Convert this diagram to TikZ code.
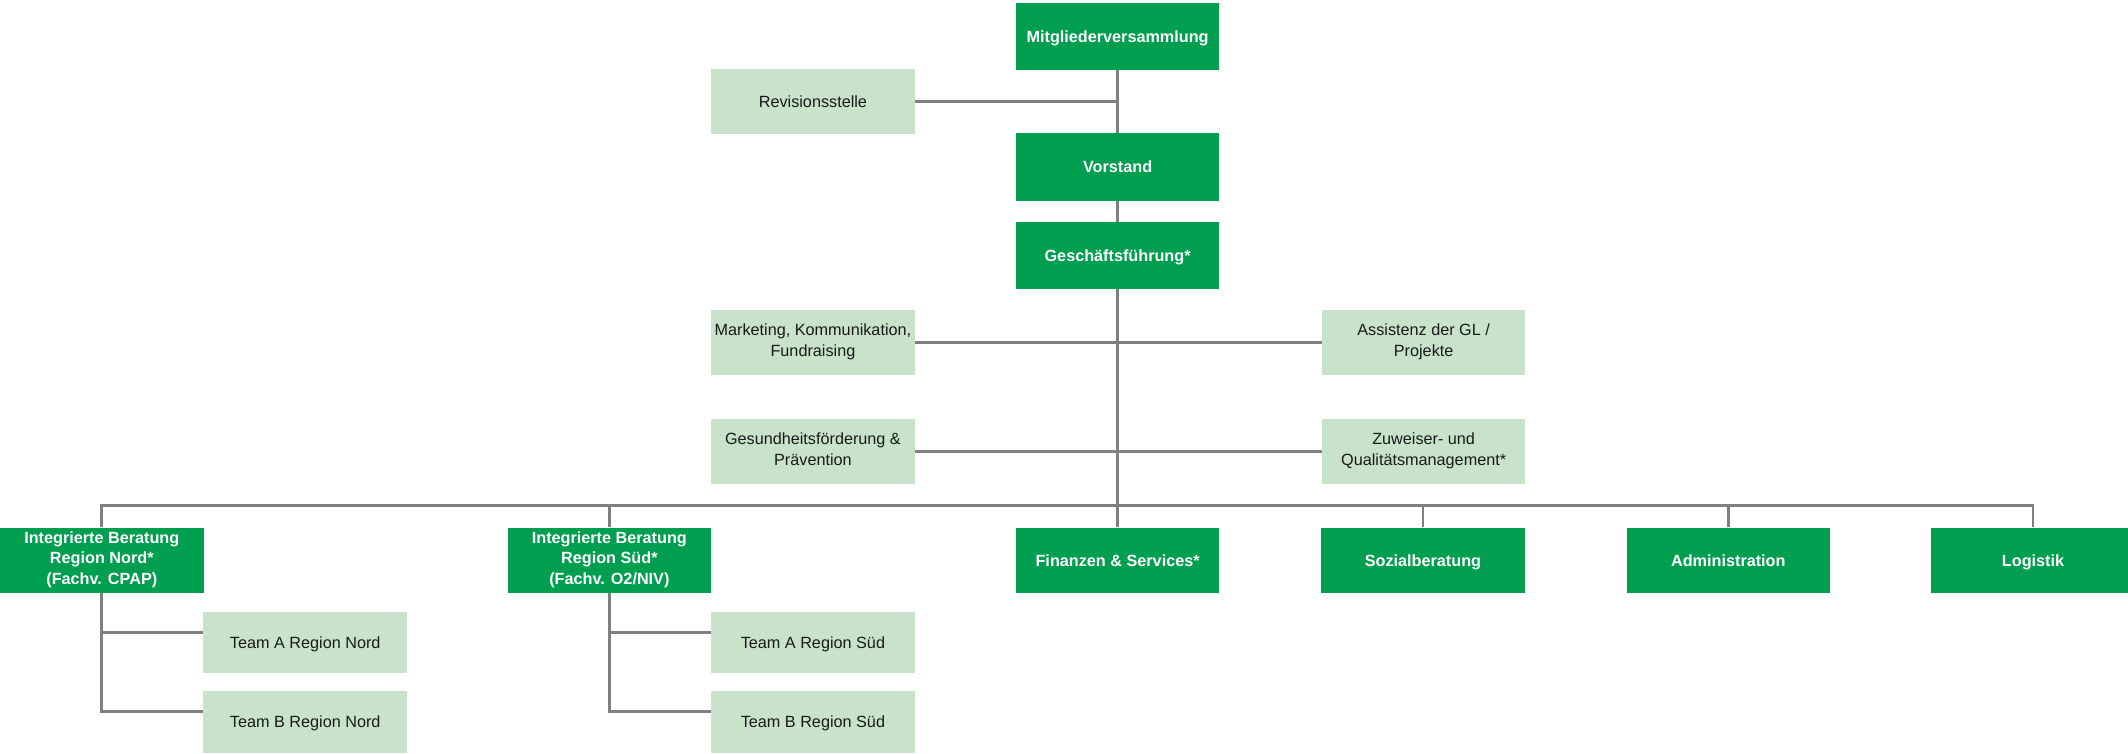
\documentclass[tikz,border=0pt]{standalone}
\usepackage{fontspec}
\setmainfont{Liberation Sans}
\usetikzlibrary{calc}
\definecolor{dgreen}{RGB}{0,158,79}
\definecolor{lgreen}{RGB}{200,227,202}
\definecolor{conngray}{RGB}{128,128,128}
\newcommand\mystrut{\rule[-4pt]{0pt}{17.74pt}}
\tikzset{
  boxbase/.style={minimum width=6cm, minimum height=1.92cm, inner sep=0pt, align=center,
    execute at begin node=\mystrut, execute at end node=\mystrut},
  dbox/.style={boxbase, fill=dgreen, text=white, font=\fontsize{13.6}{17.2}\selectfont\bfseries},
  lbox/.style={boxbase, fill=lgreen, text=black!90, font=\fontsize{13.6}{17.6}\selectfont},
  conn/.style={draw=conngray, line width=2.2pt}
}
\begin{document}
\begin{tikzpicture}[x=0.04cm, y=-0.04cm]
\useasboundingbox (0,0) rectangle (1568,555);
% top column
\node[dbox, minimum height=1.976cm] (mv) at (823.5,26.9) {Mitgliederversammlung};
\node[lbox] (rev) at (599,74.75) {Revisionsstelle};
\node[dbox, minimum height=2cm] (vor) at (823.5,123) {Vorstand};
\node[dbox, minimum height=1.976cm] (gf) at (823.5,188.3) {Geschäftsführung*};
% staff units
\node[lbox] (mkt) at (599,252.2) {Marketing, Kommunikation,\\Fundraising};
\node[lbox] (ass) at (1049,252.2) {Assistenz der GL /\\Projekte};
\node[lbox] (ges) at (599,332.6) {Gesundheitsförderung \&\\Prävention};
\node[lbox] (zuw) at (1049,332.6) {Zuweiser- und\\Qualitätsmanagement*};
% bottom row
\node[dbox] (nord) at (75,412.8) {Integrierte Beratung\\Region Nord*\\(Fachv. CPAP)};
\node[dbox] (sued) at (449,412.8) {Integrierte Beratung\\Region Süd*\\(Fachv. O2/NIV)};
\node[dbox] (fin) at (823.5,412.8) {Finanzen \& Services*};
\node[dbox] (soz) at (1048.5,412.8) {Sozialberatung};
\node[dbox] (adm) at (1273.5,412.8) {Administration};
\node[dbox] (log) at (1498,412.8) {Logistik};
% teams
\node[lbox, minimum height=1.8cm] (tan) at (224.9,473.3) {Team A Region Nord};
\node[lbox, minimum height=1.84cm] (tbn) at (224.9,532.1) {Team B Region Nord};
\node[lbox, minimum height=1.8cm] (tas) at (599,473.3) {Team A Region Süd};
\node[lbox, minimum height=1.84cm] (tbs) at (599,532.1) {Team B Region Süd};
% connectors
\coordinate (bus) at (0,372.4);
\draw[conn] (mv.south) -- (vor.north);
\draw[conn] (rev.east) -- (rev.east -| mv.south);
\draw[conn] (vor.south) -- (gf.north);
\draw[conn] (gf.south) -- (fin.north);
\draw[conn] (mkt.east) -- (ass.west);
\draw[conn] (ges.east) -- (zuw.west);
\draw[conn] (nord.north) -- (nord.north |- bus) -- (log.north |- bus) -- (log.north);
\draw[conn] (sued.north) -- (sued.north |- bus);
\draw[conn] (soz.north) -- (soz.north |- bus);
\draw[conn] (adm.north) -- (adm.north |- bus);
\draw[conn] (nord.south) |- ($(tbn.west)+(0,-7.7)$);
\draw[conn] ($(tan.west)+(0,-7.1)$) -| (nord.south);
\draw[conn] (sued.south) |- ($(tbs.west)+(0,-7.7)$);
\draw[conn] ($(tas.west)+(0,-7.1)$) -| (sued.south);
\end{tikzpicture}
\end{document}
